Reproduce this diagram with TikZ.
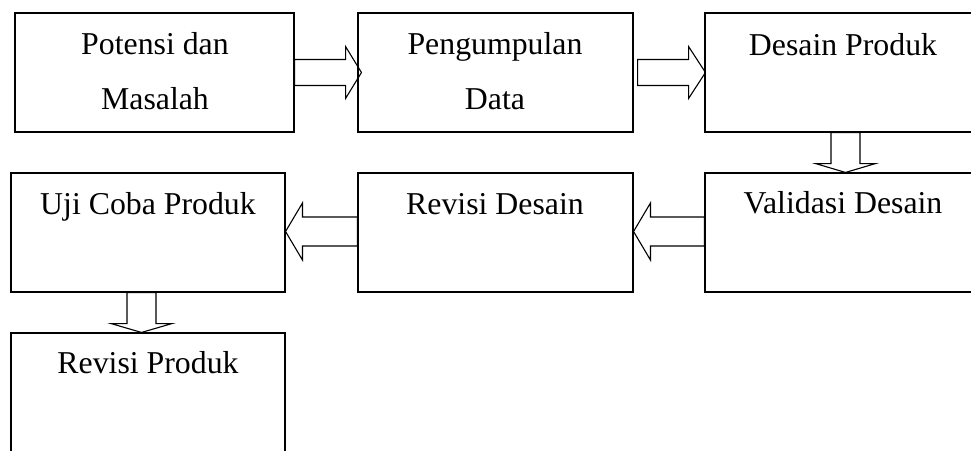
\documentclass[tikz,border=0pt]{standalone}
\usepackage{fontspec}
\setmainfont{Liberation Serif}
\usetikzlibrary{calc}
\begin{document}
\begin{tikzpicture}[x=1pt,y=-1pt,
  box/.style={draw,line width=1.1pt,inner sep=0pt,minimum width=276pt,minimum height=119pt},
  lbl/.style={anchor=base,inner sep=0pt,font=\fontsize{31.8}{36}\selectfont},
  barrow/.style={draw,line width=1.1pt,line join=miter}]
\useasboundingbox (0,0) rectangle (971,450);
\clip (0,0) rectangle (971,450);
% boxes
\node[box,minimum width=279pt] (b1) at (154.5,72.5) {};
\node[box,minimum width=275pt] (b2) at (495.5,72.5) {};
\node[box] (b3) at (843,72.5) {};
\node[box] (b4) at (843,232.5) {};
\node[box,minimum width=275pt] (b5) at (495.5,232.5) {};
\node[box,minimum width=274pt] (b6) at (148,232.5) {};
\node[box,minimum width=274pt] (b7) at (148,392.5) {};
% labels
\node[lbl] (t1a) at (155,54) {Potensi dan};
\node[lbl] (t1b) at (155,109) {Masalah};
\node[lbl] (t2a) at (495,54) {Pengumpulan};
\node[lbl] (t2b) at (495,109) {Data};
\node[lbl] (t3) at (843,55) {Desain Produk};
\node[lbl] (t4) at (843,213) {Validasi Desain};
\node[lbl] (t5) at (495,214) {Revisi Desain};
\node[lbl] (t6) at (148,214) {Uji Coba Produk};
\node[lbl] (t7) at (148,373) {Revisi Produk};
% block arrows
\draw[barrow] ($(b1.east)+(0,-13)$) -- ++(51,0) -- ++(0,-13) -- ($(b2.west)+(4,0)$)
  -- ($(b1.east)+(51,26)$) -- ++(0,-13) -- ($(b1.east)+(0,13)$) -- cycle;
\draw[barrow] ($(b2.east)+(4,-13)$) -- ++(51,0) -- ++(0,-13) -- ($(b3.west)+(1,0)$)
  -- ($(b2.east)+(55,26)$) -- ++(0,-13) -- ($(b2.east)+(4,13)$) -- cycle;
\draw[barrow] ($(b3.south)+(-12,0)$) -- ++(0,31) -- ++(-15.5,0) -- ($(b4.north)+(2.5,0)$)
  -- ($(b3.south)+(32.5,31)$) -- ++(-15.5,0) -- ($(b3.south)+(17,0)$) -- cycle;
\draw[barrow] ($(b4.west)+(0,-15.5)$) -- ++(-54,0) -- ++(0,-14) -- ($(b5.east)+(0,-1)$)
  -- ($(b4.west)+(-54,27.5)$) -- ++(0,-14) -- ($(b4.west)+(0,13.5)$) -- cycle;
\draw[barrow] ($(b5.west)+(0,-15.5)$) -- ++(-55,0) -- ++(0,-14) -- ($(b6.east)+(0,-1)$)
  -- ($(b5.west)+(-55,27.5)$) -- ++(0,-14) -- ($(b5.west)+(0,13.5)$) -- cycle;
\draw[barrow] ($(b6.south)+(-21,0)$) -- ++(0,31) -- ++(-16,0) -- ($(b7.north)+(-6.5,0)$)
  -- ($(b6.south)+(24,31)$) -- ++(-16,0) -- ($(b6.south)+(8,0)$) -- cycle;
\end{tikzpicture}
\end{document}
